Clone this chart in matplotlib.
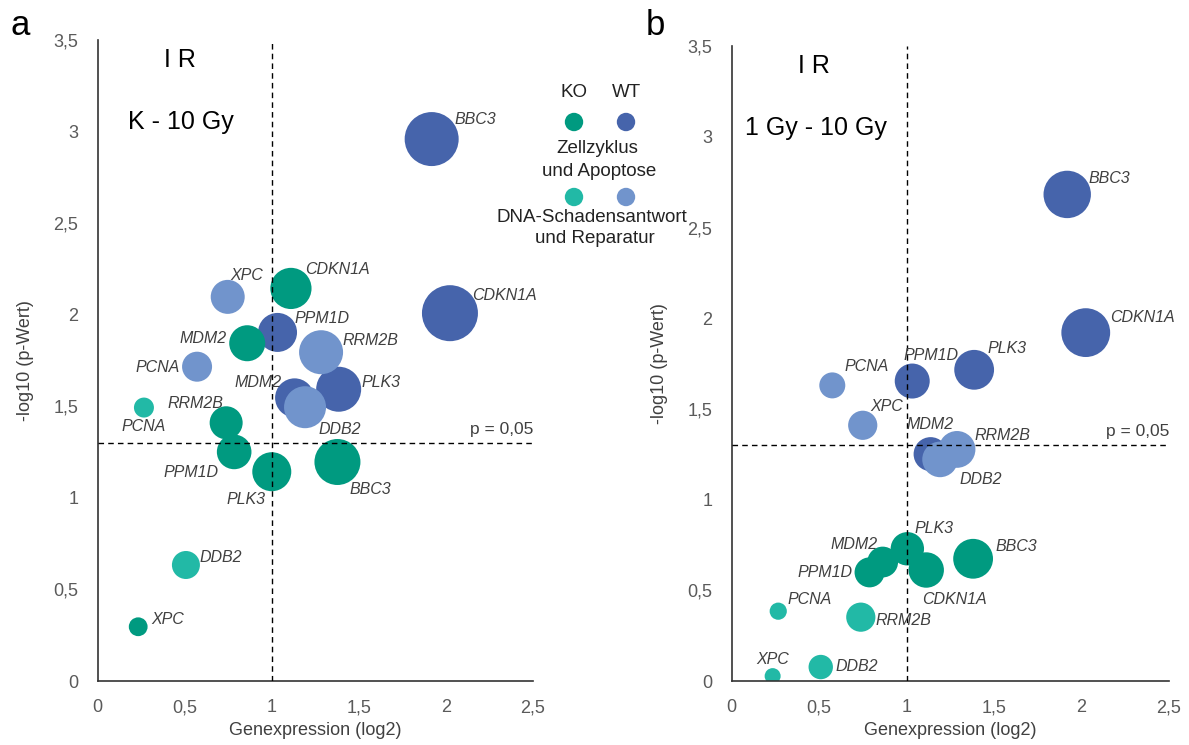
import matplotlib
matplotlib.use('Agg')
import matplotlib.pyplot as plt

plt.rcParams['font.family'] = ['Liberation Sans', 'DejaVu Sans']

# Panel a: K - 10 Gy
a_ko_genes = ['BBC3', 'CDKN1A', 'MDM2', 'PPM1D', 'PLK3', 'RRM2B', 'XPC', 'PCNA', 'DDB2']
a_ko_x = [1.377, 1.110, 0.859, 0.784, 1.000, 0.738, 0.233, 0.266, 0.507]
a_ko_y = [1.195, 2.142, 1.843, 1.250, 1.142, 1.409, 0.296, 1.492, 0.633]
a_ko_size = [23, 20.6, 18, 17.3, 19.5, 16.5, 9.4, 10, 14]
a_ko_group = ['Z', 'Z', 'Z', 'Z', 'Z', 'Z', 'Z', 'D', 'D']

a_wt_genes = ['BBC3', 'CDKN1A', 'PPM1D', 'MDM2', 'PLK3', 'XPC', 'RRM2B', 'PCNA', 'DDB2']
a_wt_x = [1.918, 2.023, 1.033, 1.131, 1.384, 0.747, 1.283, 0.571, 1.191]
a_wt_y = [2.957, 2.007, 1.902, 1.545, 1.592, 2.096, 1.794, 1.715, 1.494]
a_wt_size = [27, 28, 19.5, 19.5, 22.5, 17, 22, 15, 21]
a_wt_group = ['Z', 'Z', 'Z', 'Z', 'Z', 'D', 'D', 'D', 'D']

# Panel b: 1 Gy - 10 Gy
b_wt_genes = ['BBC3', 'CDKN1A', 'PLK3', 'PPM1D', 'MDM2', 'PCNA', 'XPC', 'RRM2B', 'DDB2']
b_wt_x = [1.918, 2.024, 1.386, 1.032, 1.137, 0.575, 0.749, 1.288, 1.191]
b_wt_y = [2.683, 1.921, 1.716, 1.654, 1.251, 1.630, 1.410, 1.277, 1.222]
b_wt_size = [23.7, 24.4, 19.9, 17.5, 17, 13, 14.6, 18.4, 17.8]
b_wt_group = ['Z', 'Z', 'Z', 'Z', 'Z', 'D', 'D', 'D', 'D']

b_ko_genes = ['PLK3', 'MDM2', 'PPM1D', 'CDKN1A', 'BBC3', 'PCNA', 'RRM2B', 'DDB2', 'XPC']
b_ko_x = [1.004, 0.863, 0.788, 1.112, 1.380, 0.266, 0.738, 0.509, 0.234]
b_ko_y = [0.729, 0.656, 0.599, 0.612, 0.674, 0.385, 0.352, 0.077, 0.027]
b_ko_size = [16.7, 15.4, 15, 17.7, 19.9, 8.6, 14.6, 12.2, 8]
b_ko_group = ['Z', 'Z', 'Z', 'Z', 'Z', 'D', 'D', 'D', 'D']

x_ticks = [0, 0.5, 1, 1.5, 2, 2.5]
y_ticks = [0, 0.5, 1, 1.5, 2, 2.5, 3, 3.5]
p_line = 1.301  # -log10(0.05)

colors = {('KO', 'Z'): '#009a80', ('KO', 'D'): '#22b9a6',
          ('WT', 'Z'): '#4664ab', ('WT', 'D'): '#7194cc'}

# label offsets in pixels (dx, dy downwards, alignment)
a_ko_lab = [(12, 26, 'left'), (14, -20, 'left'), (-21, -6, 'right'), (-16, 19, 'right'),
            (-6, 26, 'right'), (-3, -21, 'right'), (13, -9, 'left'), (0, 17, 'center'),
            (14, -9, 'left')]
a_wt_lab = [(23, -21, 'left'), (22, -19, 'left'), (17, -15, 'left'), (-13, -17, 'right'),
            (23, -8, 'left'), (3, -23, 'left'), (21, -13, 'left'), (-17, -1, 'right'),
            (13, 21, 'left')]
b_wt_lab = [(21, -17, 'left'), (24, -17, 'left'), (13, -23, 'left'), (-9, -27, 'left'),
            (-24, -31, 'left'), (12, -20, 'left'), (8, -20, 'left'), (17, -15, 'left'),
            (19, 19, 'left')]
b_ko_lab = [(7, -22, 'left'), (-5, -19, 'right'), (-17, -1, 'right'), (-4, 28, 'left'),
            (22, -14, 'left'), (9, -13, 'left'), (15, 2, 'left'), (15, -2, 'left'),
            (0, -18, 'center')]

fig = plt.figure(figsize=(11.89, 7.45), dpi=100)


def bubbles(ax, genes, xs, ys, sizes, groups, cond, labs):
    s = [(2 * r * 0.72) ** 2 for r in sizes]
    c = [colors[(cond, g)] for g in groups]
    ax.scatter(xs, ys, s=s, c=c, linewidths=0, zorder=2)
    for g, x, y, (dx, dy, ha) in zip(genes, xs, ys, labs):
        ax.annotate(g, (x, y), xytext=(dx, -dy), textcoords='offset pixels',
                    ha=ha, va='center_baseline', fontsize=11.5, style='italic',
                    color='#404040', zorder=4)


def setup(ax, title):
    ax.set_xlim(0, 2.5)
    ax.set_ylim(0, 3.5)
    for sp in ['top', 'right']:
        ax.spines[sp].set_visible(False)
    for sp in ['left', 'bottom']:
        ax.spines[sp].set_color('#333333')
        ax.spines[sp].set_linewidth(1.2)
    ax.set_xticks(x_ticks)
    ax.set_yticks(y_ticks)
    ax.set_xticklabels([f'{t:g}'.replace('.', ',') for t in x_ticks])
    ax.set_yticklabels([f'{t:g}'.replace('.', ',') for t in y_ticks])
    ax.tick_params(length=0, labelsize=13, labelcolor='#5a5a5a')
    ax.tick_params(axis='x', pad=13)
    ax.tick_params(axis='y', pad=14)
    ax.axvline(1, color='black', lw=1, ls=(0, (4, 3)), zorder=3)
    ax.axhline(p_line, color='black', lw=1, ls=(0, (4, 3)), zorder=3)
    ax.set_xlabel('Genexpression (log2)', fontsize=13, color='#404040')
    ax.set_ylabel('-log10 (p-Wert)', fontsize=13, color='#404040')
    ax.xaxis.set_label_coords(0.5, -0.064)
    ax.yaxis.set_label_coords(-0.146, 0.5)
    ax.text(0.47, 3.35, 'I R', fontsize=18, ha='center', va='baseline')
    ax.text(0.48, 3.01, title, fontsize=18, ha='center', va='baseline')
    ax.text(2.5, 1.35, 'p = 0,05', fontsize=12.5, ha='right', va='baseline',
            color='#404040')


ax1 = fig.add_axes([0.0821, 0.0859, 0.3662, 0.861])
setup(ax1, 'K - 10 Gy')
bubbles(ax1, a_wt_genes, a_wt_x, a_wt_y, a_wt_size, a_wt_group, 'WT', a_wt_lab)
bubbles(ax1, a_ko_genes, a_ko_x, a_ko_y, a_ko_size, a_ko_group, 'KO', a_ko_lab)

ax2 = fig.add_axes([0.6154, 0.0859, 0.3678, 0.852])
setup(ax2, '1 Gy - 10 Gy')
bubbles(ax2, b_wt_genes, b_wt_x, b_wt_y, b_wt_size, b_wt_group, 'WT', b_wt_lab)
bubbles(ax2, b_ko_genes, b_ko_x, b_ko_y, b_ko_size, b_ko_group, 'KO', b_ko_lab)

# overlay in pixel coordinates for legend and panel letters
lay = fig.add_axes([0, 0, 1, 1], zorder=5)
lay.set_xlim(0, 1189)
lay.set_ylim(745, 0)
lay.axis('off')
lay.patch.set_alpha(0)

lay.text(11, 35, 'a', fontsize=25, ha='left', va='baseline')
lay.text(646, 35, 'b', fontsize=25, ha='left', va='baseline')

leg = dict(fontsize=13.5, ha='center', va='baseline', color='#222222')
lay.text(574, 97, 'KO', **leg)
lay.text(626, 97, 'WT', **leg)
lay.text(597, 153, 'Zellzyklus', **leg)
lay.text(599, 176, 'und Apoptose', **leg)
lay.text(592, 222, 'DNA-Schadensantwort', **leg)
lay.text(595, 243, 'und Reparatur', **leg)
ms = (2 * 9.2 * 0.72) ** 2
lay.scatter([574, 626], [122, 122], s=ms, c=[colors[('KO', 'Z')], colors[('WT', 'Z')]],
            linewidths=0)
lay.scatter([574, 626], [197, 197], s=ms, c=[colors[('KO', 'D')], colors[('WT', 'D')]],
            linewidths=0)

fig.savefig('out.png', dpi=100)
